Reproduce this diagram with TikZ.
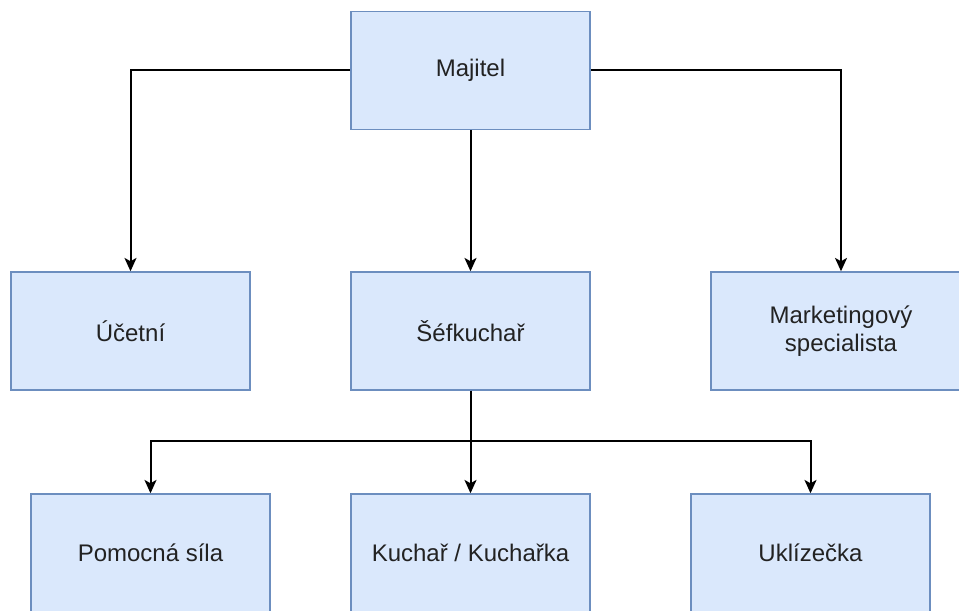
\documentclass[tikz,border=0pt]{standalone}
\usepackage{fontspec}
\setmainfont{Liberation Sans}
\usepackage{xcolor}
\usepackage{tikz}
\usetikzlibrary{arrows.meta}
\definecolor{boxfill}{HTML}{DAE8FC}
\definecolor{boxline}{HTML}{6C8EBF}
\definecolor{boxtext}{HTML}{222222}

\begin{document}
\begin{tikzpicture}[x=0.75pt,y=-0.75pt,
  role/.style={draw=boxline,fill=boxfill,line width=1.1pt,minimum width=179.5pt,
    minimum height=88.5pt,align=center,inner sep=0pt,text=boxtext,
    font=\fontsize{18}{20.5}\selectfont},
  arr/.style={line width=1.5pt,-{Stealth[length=10pt,width=9pt,inset=2.5pt]}}]
\useasboundingbox (0,0) rectangle (959,610);

\node[role] (maj) at (470.5,70.5) {Majitel};
\node[role] (uct) at (130.5,331) {Účetní};
\node[role] (sef) at (470.5,331) {Šéfkuchař};
\node[role,minimum width=195pt] (mkt) at (841,331) {Marketingový\\specialista};
\node[role] (pom) at (150.5,553) {Pomocná síla};
\node[role] (kuch) at (470.5,553) {Kuchař / Kuchařka};
\node[role] (ukl) at (810.5,553) {Uklízečka};

\draw[arr] (maj.west) -| (uct.north);
\draw[arr] (maj.south) -- (sef.north);
\draw[arr] (maj.east) -| (mkt.north);
\path (sef.south) ++(0,50) coordinate (rozc);
\draw[arr] (rozc) -| (pom.north);
\draw[arr] (sef.south) -- (kuch.north);
\draw[arr] (rozc) -| (ukl.north);

\end{tikzpicture}
\end{document}
